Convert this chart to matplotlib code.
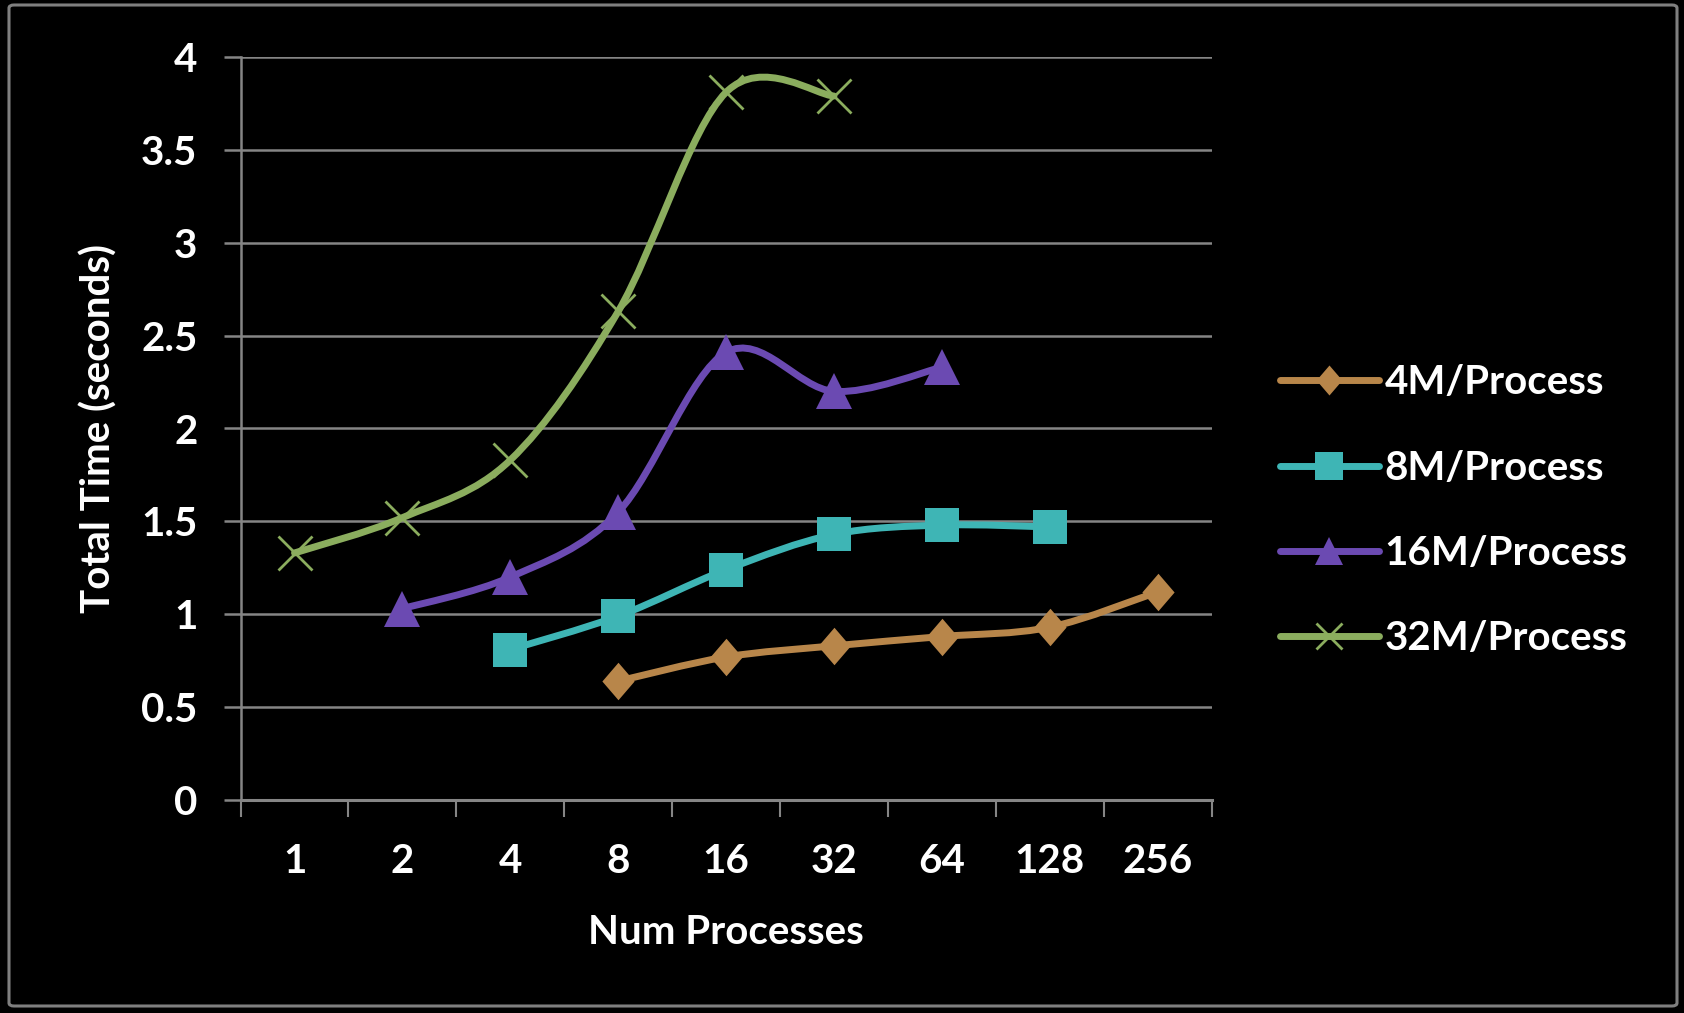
import numpy as np
import matplotlib
matplotlib.use('Agg')
import matplotlib.pyplot as plt
from matplotlib.path import Path
from matplotlib.patches import PathPatch, FancyBboxPatch

plt.rcParams['font.family'] = ['Lato', 'DejaVu Sans']
plt.rcParams['font.weight'] = 'bold'
plt.rcParams['axes.labelweight'] = 'bold'

# number of processes on the category axis
procs = [1, 2, 4, 8, 16, 32, 64, 128, 256]
proc_labels = ['1', '2', '4', '8', '16', '32', '64', '128', '256']

# total time (seconds) per data size
procs_4m = [8, 16, 32, 64, 128, 256]
time_4m = [0.64, 0.77, 0.83, 0.88, 0.93, 1.12]

procs_8m = [4, 8, 16, 32, 64, 128]
time_8m = [0.81, 0.99, 1.24, 1.43, 1.48, 1.47]

procs_16m = [2, 4, 8, 16, 32, 64]
time_16m = [1.03, 1.20, 1.55, 2.41, 2.20, 2.33]

procs_32m = [1, 2, 4, 8, 16, 32]
time_32m = [1.33, 1.52, 1.83, 2.63, 3.81, 3.79]

names = ['4M/Process', '8M/Process', '16M/Process', '32M/Process']
colors = ['#B8864A', '#3EB5B5', '#6B4AB2', '#8BAD5E']

W, H, DPI = 1684, 1013, 100
GRID = '#858585'
FS = 29


def smooth_path(x, y):
    """Catmull-Rom curve through the points, as cubic bezier segments."""
    pts = np.column_stack([x, y]).astype(float)
    ext = np.vstack([pts[0], pts, pts[-1]])
    verts = [pts[0]]
    codes = [Path.MOVETO]
    for i in range(1, len(ext) - 2):
        p0, p1, p2, p3 = ext[i - 1], ext[i], ext[i + 1], ext[i + 2]
        c1 = p1 + (p2 - p0) / 6.0
        c2 = p2 - (p3 - p1) / 6.0
        verts += [c1, c2, p2]
        codes += [Path.CURVE4] * 3
    return Path(verts, codes)


# diamond a bit taller than wide
diamond = [(0, -1), (0.86, 0), (0, 1), (-0.86, 0), (0, -1)]
markers = [dict(marker=diamond, ms=27, mew=0),
           dict(marker='s', ms=25, mew=0),
           dict(marker='^', ms=26, mew=0),
           dict(marker='x', ms=24, mew=2.0)]

fig = plt.figure(figsize=(W / DPI, H / DPI), dpi=DPI, facecolor='black')
ax = fig.add_axes([240.6 / W, 1 - 800 / H, (1211.5 - 240.6) / W, (800 - 57) / H])
ax.set_facecolor('black')

series = [(procs_4m, time_4m), (procs_8m, time_8m),
          (procs_16m, time_16m), (procs_32m, time_32m)]
for k, (p, t) in enumerate(series):
    xs = np.log2(p)
    ax.add_patch(PathPatch(smooth_path(xs, t), fill=False, edgecolor=colors[k],
                           lw=5.0, capstyle='round', joinstyle='round',
                           zorder=3 + k))
    ax.plot(xs, t, linestyle='none', color=colors[k], zorder=3.5 + k,
            **markers[k])

ax.set_xlim(-0.5, len(procs) - 0.5)
ax.set_ylim(0, 4)
ax.set_yticks(np.arange(0, 4.01, 0.5))
ax.set_yticklabels(['0', '0.5', '1', '1.5', '2', '2.5', '3', '3.5', '4'])
ax.set_xticks(np.log2(procs))
ax.set_xticklabels(proc_labels)
ax.set_xticks(np.arange(-0.5, len(procs)), minor=True)

ax.grid(axis='y', color=GRID, lw=1.8)
ax.set_axisbelow(True)
for side in ['top', 'right']:
    ax.spines[side].set_visible(False)
ax.spines['left'].set_color(GRID)
ax.spines['left'].set_linewidth(1.8)
ax.spines['bottom'].set_color(GRID)
ax.spines['bottom'].set_linewidth(2.2)

ax.tick_params(axis='y', which='major', length=12, width=1.8, color=GRID,
               pad=19, labelsize=FS, labelcolor='white')
ax.tick_params(axis='x', which='major', length=0, pad=31, labelsize=FS,
               labelcolor='white')
ax.tick_params(axis='x', which='minor', length=12, width=1.5, color=GRID)

ax.set_xlabel('Num Processes', fontsize=FS, color='white')
ax.xaxis.set_label_coords(0.5, (800 - 932) / 743)
ax.xaxis.label.set_va('center')
ax.set_ylabel('Total Time (seconds)', fontsize=FS, color='white')
ax.yaxis.set_label_coords((99 - 240.6) / 971, 0.5)
ax.yaxis.label.set_va('center')

handles = [plt.Line2D([], [], color=colors[k], lw=5.0, solid_capstyle='round',
                      **markers[k]) for k in range(4)]
fig.legend(handles, names, loc='center left', frameon=False,
           bbox_to_anchor=(1280 / W, 1 - 511 / H), borderpad=0,
           borderaxespad=0, fontsize=FS, handlelength=2.45, handletextpad=0.15,
           labelspacing=1.2, markerscale=0.8, labelcolor='white')

# rounded chart-area frame
fig.patches.append(FancyBboxPatch((9 / W, 7 / H), (1677 - 9) / W, (1008 - 7) / H,
                                  boxstyle='round,pad=0,rounding_size=0.003',
                                  transform=fig.transFigure, fill=False,
                                  edgecolor='#7F7F7F', lw=2.2))

fig.savefig('out.png', dpi=DPI, facecolor='black')
